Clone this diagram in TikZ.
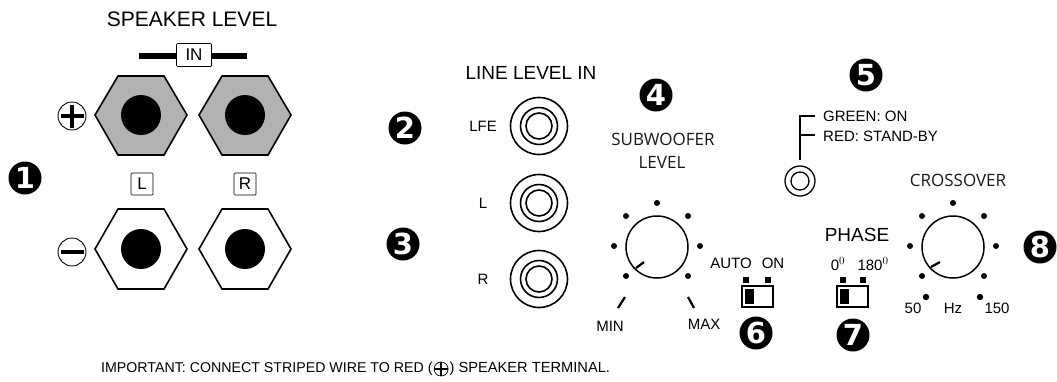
\documentclass[tikz,border=0pt]{standalone}
\usepackage{fontspec}
\setmainfont{Liberation Sans}
\newfontfamily\knobfont{Open Sans}
\newfontfamily\badgefont{DejaVu Sans}
\usetikzlibrary{positioning}
\tikzset{
  badge/.style={circle,fill=black,inner sep=0pt,minimum size=33pt,text=white,font=\badgefont\fontsize{29}{29}\selectfont\bfseries},
  hexnut/.style={line width=1.6pt,line join=miter},
  labelbox/.style={draw,rounded corners=1pt,line width=0.7pt,inner sep=0pt,minimum height=22pt},
  txt/.style={inner sep=0pt,font=\fontsize{#1}{#1}\selectfont},
  knobtxt/.style={inner sep=0pt,text=black!90,font=\knobfont\fontsize{#1}{#1}\selectfont},
}
\begin{document}
\begin{tikzpicture}[x=1pt,y=-1pt]
    \useasboundingbox (0,0) rectangle (1057,381);
    % speaker terminals
    \foreach \cx in {141,245} {
        \draw[hexnut,fill=black!30] (\cx-46,115) -- (\cx-23,76) -- (\cx+23,76) -- (\cx+46,115) -- (\cx+23,155) -- (\cx-23,155) -- cycle;
        \fill (\cx,115) circle (20);
        \draw[hexnut,fill=white] (\cx-46,249) -- (\cx-23,209) -- (\cx+23,209) -- (\cx+46,249) -- (\cx+23,289) -- (\cx-23,289) -- cycle;
        \fill (\cx,249) circle (20);
    }
    \draw[line width=5.5pt] (139,56) -- (247,56);
    \node[labelbox,fill=white,minimum width=35pt,minimum height=23pt,txt=17] (inbox) at (194,55) {IN};
    \node[labelbox,minimum width=22pt,txt=17] (lbox) at (142,184) {L};
    \node[labelbox,minimum width=22pt,txt=17] (rbox) at (245,184) {R};
    \node[txt=21] (speaker) at (192,19) {SPEAKER LEVEL};
    % plus and minus
    \draw[line width=0.9pt] (72,116) circle (14);
    \draw[line width=4pt] (60.5,116) -- (83.5,116);
    \draw[line width=4pt] (72,104.5) -- (72,127.5);
    \draw[line width=0.9pt] (72,252) circle (14);
    \draw[line width=4pt] (60.5,252) -- (83.5,252);
    % line level jacks
    \node[txt=19] (linelevel) at (531,73) {LINE LEVEL IN};
    \foreach \cy/\lab in {126/LFE,203/L,279/R} {
        \draw[line width=1.6pt] (539,\cy) circle (28.5) circle (18.5) circle (13);
        \node[txt=15] at (483,\cy) {\lab};
    }
    % level knobs
    \foreach \kx/\px/\py/\qx/\qy in {657/636/268/644/262,953/931/267/940/262} {
        \draw[line width=1.5pt] (\kx,247) circle (31);
        \draw[line width=2.2pt] (\px,\py) -- (\qx,\qy);
        \foreach \dx/\dy in {0/-44,-31/-31,31/-31,-43/-1,43/-1,-31/29,31/29}
            \fill (\kx+\dx,247+\dy) circle (3);
    }
    \node[knobtxt=17] (subwoofer) at (663,139) {SUBWOOFER};
    \node[knobtxt=17] (sublevel) at (662,162) {LEVEL};
    \node[knobtxt=17] (crossover) at (958,180) {CROSSOVER};
    \draw[line width=2.2pt] (618,308) -- (625,297);
    \draw[line width=2.2pt] (694,308) -- (688,297);
    \node[txt=15] (minlab) at (610,326) {MIN};
    \node[txt=15] (maxlab) at (704,324) {MAX};
    \fill (926,297) circle (3.2);
    \fill (980,297) circle (3.2);
    \node[txt=15] (fifty) at (913,308) {50};
    \node[txt=15] (hzlab) at (953,308) {Hz};
    \node[txt=15] (onefifty) at (997,308) {150};
    % switches
    \foreach \sx/\ax/\bx in {742/746/768,837/843/863} {
        \draw[line width=1.3pt] (\sx,286) rectangle (\sx+31,307);
        \fill (\sx+3,289) rectangle (\sx+12,304);
        \fill (\ax-3,277) rectangle (\ax+3,283);
        \fill (\bx-3,277) rectangle (\bx+3,283);
    }
    \node[txt=15] (auto) at (731,263) {AUTO};
    \node[txt=15] (on) at (773,263) {ON};
    \node[txt=19] (phase) at (857,235) {PHASE};
    \node[txt=15] (zero) at (838,264) {0$^{\scriptstyle 0}$};
    \node[txt=15] (oneeighty) at (873,264) {180$^{\scriptstyle 0}$};
    % led
    \draw[line width=1.3pt] (800,181) circle (15) circle (9);
    \draw[line width=1.2pt] (815,116) -- (800,116) -- (800,160);
    \draw[line width=1.2pt] (800,135) -- (815,135);
    \node[txt=15,anchor=west] (green) at (823,116.5) {GREEN: ON};
    \node[txt=15,anchor=west] (red) at (823,136) {RED: STAND-BY};
    % numbers
    \foreach \n/\bx/\by in {1/25/178,2/405/128,3/403/244,4/656/95,5/866/75,6/756/333,7/853/335,8/1040/247}
        \node[badge] (num\n) at (\bx,\by) {\n};
    % note at the bottom
    \node[txt=14.2,anchor=west] (note) at (101,369) {IMPORTANT: CONNECT STRIPED WIRE TO RED (};
    \node[circle,draw,line width=0.7pt,inner sep=0pt,minimum size=14pt,right=1pt of note] (notemark) {};
    \draw[line width=1.6pt] (notemark.west) -- (notemark.east) (notemark.north) -- (notemark.south);
    \node[txt=14.65,right=1pt of notemark] (noteend) {) SPEAKER TERMINAL.};
\end{tikzpicture}
\end{document}
